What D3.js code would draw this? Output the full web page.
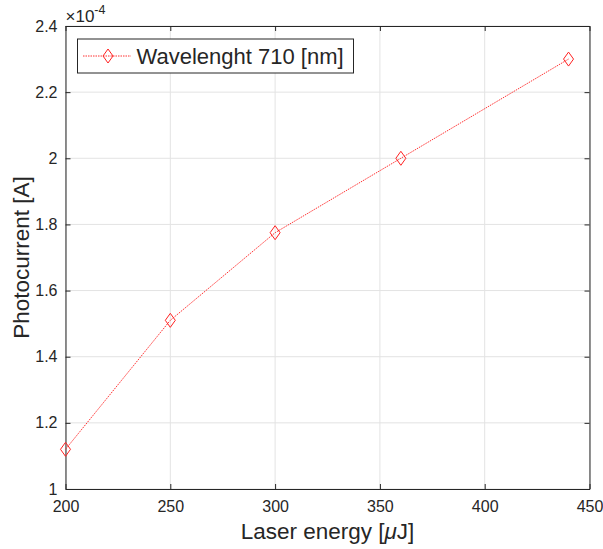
<!DOCTYPE html>
<html>
<head>
<meta charset="utf-8">
<script src="https://d3js.org/d3.v7.min.js"></script>
<style>
  body { margin: 0; background: #fff; }
  text { font-family: "Liberation Sans", Arial, sans-serif; fill: #262626; }
</style>
</head>
<body>
<div id="chart"></div>
<script>
// chart data
var energy = [200, 250, 300, 360, 440];
var current = [1.12, 1.51, 1.775, 2.0, 2.30];
var xTicks = [200, 250, 300, 350, 400, 450];
var yTicks = [1, 1.2, 1.4, 1.6, 1.8, 2, 2.2, 2.4];
var seriesName = "Wavelenght 710 [nm]";

var W = 603, H = 549;
var margin = {top: 26, right: 13.5, bottom: 60, left: 65.5},
    width = W - margin.left - margin.right,
    height = H - margin.top - margin.bottom;

var svg = d3.select("#chart")
  .append("svg")
    .attr("width", W)
    .attr("height", H)
  .append("g")
    .attr("transform", "translate(" + margin.left + "," + margin.top + ")");

var x = d3.scaleLinear().domain([200, 450]).range([0, width]);
var y = d3.scaleLinear().domain([1, 2.4]).range([height, 0]);

// grid
svg.append("g").selectAll("line")
  .data(xTicks)
  .enter().append("line")
    .attr("x1", function(d) { return x(d); })
    .attr("x2", function(d) { return x(d); })
    .attr("y1", 0).attr("y2", height)
    .attr("stroke", "#e3e3e3").attr("stroke-width", 1);
svg.append("g").selectAll("line")
  .data(yTicks)
  .enter().append("line")
    .attr("y1", function(d) { return y(d); })
    .attr("y2", function(d) { return y(d); })
    .attr("x1", 0).attr("x2", width)
    .attr("stroke", "#e3e3e3").attr("stroke-width", 1);

// axes (ticks point inward, box on all sides)
function styleAxis(g) {
  g.select(".domain").attr("stroke", "#262626");
  g.selectAll(".tick line").attr("stroke", "#262626");
  g.selectAll("text").style("font-size", "16px").attr("fill", "#262626");
}
svg.append("g")
  .attr("transform", "translate(0," + height + ")")
  .call(d3.axisBottom(x).tickValues(xTicks).tickSizeInner(-5).tickSizeOuter(0).tickPadding(12))
  .call(styleAxis);
svg.append("g")
  .call(d3.axisLeft(y).tickValues(yTicks).tickSizeInner(-5).tickSizeOuter(0).tickPadding(8)
    .tickFormat(function(d) { return d3.format("")(+d.toFixed(1)); }))
  .call(styleAxis);
svg.append("g")
  .call(d3.axisTop(x).tickValues(xTicks).tickSizeInner(-5).tickSizeOuter(0).tickFormat(""))
  .call(styleAxis);
svg.append("g")
  .attr("transform", "translate(" + width + ",0)")
  .call(d3.axisRight(y).tickValues(yTicks).tickSizeInner(-5).tickSizeOuter(0).tickFormat(""))
  .call(styleAxis);

// exponent
var ex = svg.append("text")
  .attr("x", 0).attr("y", -4)
  .style("font-size", "17px");
ex.append("tspan").text("\u00d710");
ex.append("tspan").attr("dy", -8).style("font-size", "12.5px").text("-4");

// series
var line = d3.line()
  .x(function(d, i) { return x(energy[i]); })
  .y(function(d) { return y(d); });

svg.append("path")
  .datum(current)
  .attr("d", line)
  .attr("fill", "none")
  .attr("stroke", "#ff3333")
  .attr("stroke-width", 1)
  .attr("stroke-dasharray", "1.5,1");

var diamond = "M0,-7L5,0L0,7L-5,0Z";
svg.selectAll(".pt")
  .data(current)
  .enter().append("path")
    .attr("class", "pt")
    .attr("d", diamond)
    .attr("transform", function(d, i) { return "translate(" + x(energy[i]) + "," + y(d) + ")"; })
    .attr("fill", "none")
    .attr("stroke", "#ff2222")
    .attr("stroke-width", 1);

// legend
var lg = svg.append("g").attr("transform", "translate(12,13)");
lg.append("rect")
  .attr("width", 276).attr("height", 34)
  .attr("fill", "#fff").attr("stroke", "#262626").attr("stroke-width", 1);
lg.append("line")
  .attr("x1", 5.5).attr("x2", 53.5).attr("y1", 17).attr("y2", 17)
  .attr("stroke", "#ff3333").attr("stroke-dasharray", "1.5,1");
lg.append("path")
  .attr("d", diamond)
  .attr("transform", "translate(30.5,17)")
  .attr("fill", "none").attr("stroke", "#ff2222");
lg.append("text")
  .attr("x", 59).attr("y", 25)
  .style("font-size", "22px")
  .text(seriesName);

// axis labels
svg.append("text")
  .attr("x", width / 2).attr("y", height + 50)
  .attr("text-anchor", "middle")
  .style("font-size", "22.5px")
  .html("Laser energy [<tspan font-style='italic'>\u03bc</tspan>J]");
svg.append("text")
  .attr("transform", "translate(-37," + (height / 2) + ")rotate(-90)")
  .attr("text-anchor", "middle")
  .style("font-size", "22.5px")
  .text("Photocurrent [A]");
</script>
</body>
</html>
